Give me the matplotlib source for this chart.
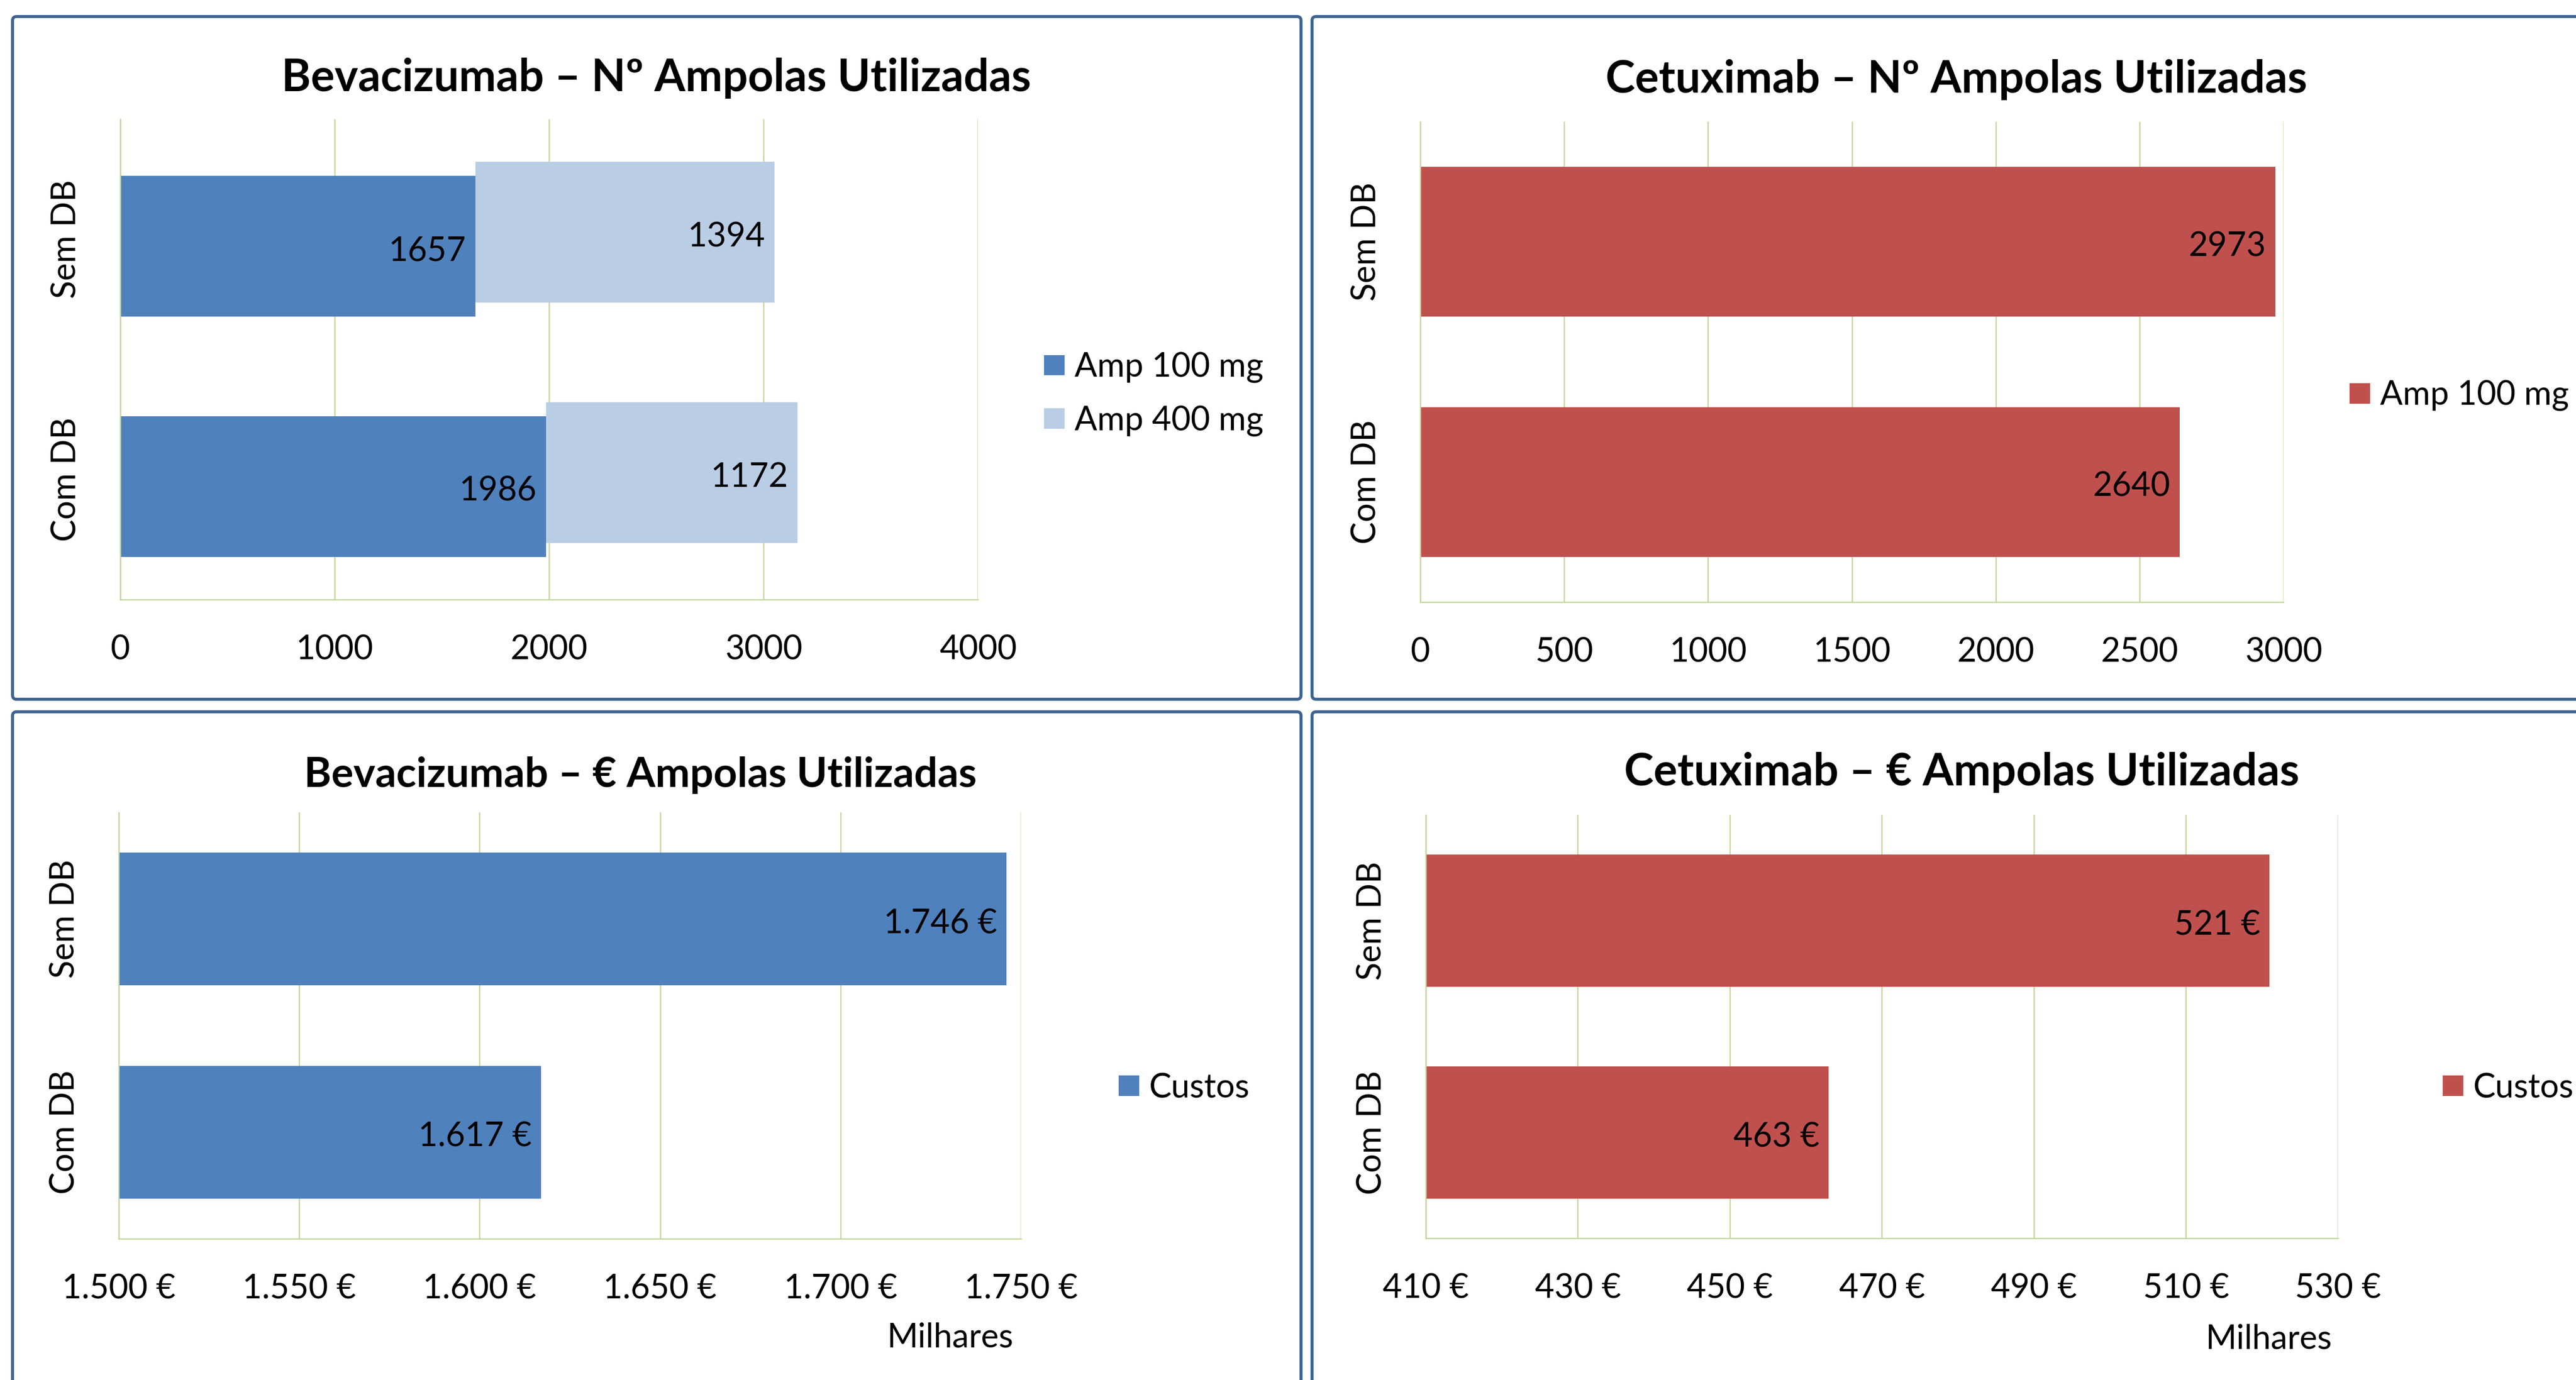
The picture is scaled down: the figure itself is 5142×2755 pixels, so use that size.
import matplotlib

matplotlib.use("Agg")
import matplotlib.pyplot as plt
from matplotlib.patches import FancyBboxPatch, Patch

# ---- data -------------------------------------------------------------
categories = ["Com DB", "Sem DB"]

bev_amp100 = [1986, 1657]
bev_amp400 = [1172, 1394]
cet_amp100 = [2640, 2973]

# costs, thousands of euros
bev_costs = [1617, 1746]
cet_costs = [463, 521]

bev_count_ticks = [0, 1000, 2000, 3000, 4000]
cet_count_ticks = [0, 500, 1000, 1500, 2000, 2500, 3000]
bev_cost_ticks = [1500, 1550, 1600, 1650, 1700, 1750]
cet_cost_ticks = [410, 430, 450, 470, 490, 510, 530]

# ---- style ------------------------------------------------------------
BLUE = "#4F81BD"
LIGHT_BLUE = "#B9CDE5"
RED = "#C0504D"
GRID = "#C3D69B"
FRAME = "#3F6390"
W, H = 5142, 2755
FS = 48
TITLE_FS = 64

plt.rcParams["font.family"] = ["Lato", "DejaVu Sans"]

fig = plt.figure(figsize=(W / 100, H / 100), dpi=100)


def px_axes(x0, y0, x1, y1):
    return fig.add_axes([x0 / W, 1 - y1 / H, (x1 - x0) / W, (y1 - y0) / H])


def frame(x0, y0, x1, y1):
    box = FancyBboxPatch(
        (x0 / 100, (H - y1) / 100), (x1 - x0) / 100, (y1 - y0) / 100,
        boxstyle="round,pad=0,rounding_size=0.08",
        transform=fig.dpi_scale_trans, fill=False,
        edgecolor=FRAME, linewidth=4.3,
    )
    fig.add_artist(box)


def euro(v):
    return f"{v:,}".replace(",", ".") + " \u20ac"


def style_axes(ax, ticks, fmt):
    ax.set_xlim(ticks[0], ticks[-1])
    ax.set_xticks(ticks)
    ax.set_xticklabels([fmt(t) for t in ticks])
    ax.set_ylim(-0.5, len(categories) - 0.5)
    ax.set_yticks(range(len(categories)))
    ax.set_yticklabels(categories)
    plt.setp(ax.get_yticklabels(), rotation=90, va="center")
    ax.tick_params(axis="x", length=0, pad=50, labelsize=FS)
    ax.tick_params(axis="y", length=0, pad=55, labelsize=FS)
    ax.grid(axis="x", color=GRID, linewidth=1.8)
    ax.set_axisbelow(True)
    for side in ("top", "right"):
        ax.spines[side].set_visible(False)
    for side in ("left", "bottom"):
        ax.spines[side].set_color(GRID)
        ax.spines[side].set_linewidth(1.8)


def label_bar(ax, end, y, text):
    ax.annotate(text, xy=(end, y), xytext=(-13.5, -7), textcoords="offset points",
                ha="right", va="center", fontsize=FS)


def add_legend(ax, items, x, y):
    handles = [Patch(facecolor=c, edgecolor="none", label=l) for l, c in items]
    ax.legend(handles=handles, loc="center left", bbox_to_anchor=(x / W, 1 - y / H),
              bbox_transform=fig.transFigure, frameon=False, borderpad=0,
              borderaxespad=0, handlelength=0.61, handleheight=0.565,
              handletextpad=0.3, labelspacing=0.66, fontsize=FS)


def title(text, x, y, size=TITLE_FS):
    fig.text(x / W, 1 - y / H, text, ha="center", va="baseline",
             fontsize=size, fontweight="bold")


ypos = list(range(len(categories)))

# frames
frame(25, 33, 2597, 1396)
frame(2619, 33, 5200, 1396)
frame(25, 1421, 2597, 2800)
frame(2619, 1421, 5200, 2800)

# ---- Bevacizumab - count ---------------------------------------------
ax = px_axes(240, 238, 1952, 1197)
off = 0.029
h = 0.586
y100 = [y - off for y in ypos]
y400 = [y + off for y in ypos]
ax.barh(y100, bev_amp100, height=h, color=BLUE)
ax.barh(y400, bev_amp400, left=bev_amp100, height=h, color=LIGHT_BLUE)
for yy, v in zip(y100, bev_amp100):
    label_bar(ax, v, yy, str(v))
for yy, a, b in zip(y400, bev_amp100, bev_amp400):
    label_bar(ax, a + b, yy, str(b))
style_axes(ax, bev_count_ticks, str)
add_legend(ax, [("Amp 100 mg", BLUE), ("Amp 400 mg", LIGHT_BLUE)], 2084, 787)
title("Bevacizumab \u2013 N\u00ba Ampolas Utilizadas", 1310, 182)

# ---- Cetuximab - count -----------------------------------------------
ax = px_axes(2835, 243, 4558, 1202)
ax.barh(ypos, cet_amp100, height=0.624, color=RED)
for yy, v in zip(ypos, cet_amp100):
    label_bar(ax, v, yy, str(v))
style_axes(ax, cet_count_ticks, str)
add_legend(ax, [("Amp 100 mg", RED)], 4690, 790)
title("Cetuximab \u2013 N\u00ba Ampolas Utilizadas", 3905, 185)

# ---- Bevacizumab - cost ----------------------------------------------
ax = px_axes(237, 1622, 2038, 2473)
ax.barh(ypos, bev_costs, height=0.623, color=BLUE)
for yy, v in zip(ypos, bev_costs):
    label_bar(ax, v, yy, euro(v))
style_axes(ax, bev_cost_ticks, euro)
ax.set_xlabel("Milhares", fontsize=FS)
ax.xaxis.set_label_coords(0.922, -0.196)
add_legend(ax, [("Custos", BLUE)], 2233, 2172)
title("Bevacizumab \u2013 \u20ac Ampolas Utilizadas", 1278, 1571, size=59.5)

# ---- Cetuximab - cost ------------------------------------------------
ax = px_axes(2846, 1627, 4667, 2472)
ax.barh(ypos, cet_costs, height=0.625, color=RED)
for yy, v in zip(ypos, cet_costs):
    label_bar(ax, v, yy, euro(v))
style_axes(ax, cet_cost_ticks, euro)
ax.set_xlabel("Milhares", fontsize=FS)
ax.xaxis.set_label_coords(0.924, -0.202)
add_legend(ax, [("Custos", RED)], 4876, 2172)
title("Cetuximab \u2013 \u20ac Ampolas Utilizadas", 3916, 1568)

fig.savefig("out.png", dpi=100)
